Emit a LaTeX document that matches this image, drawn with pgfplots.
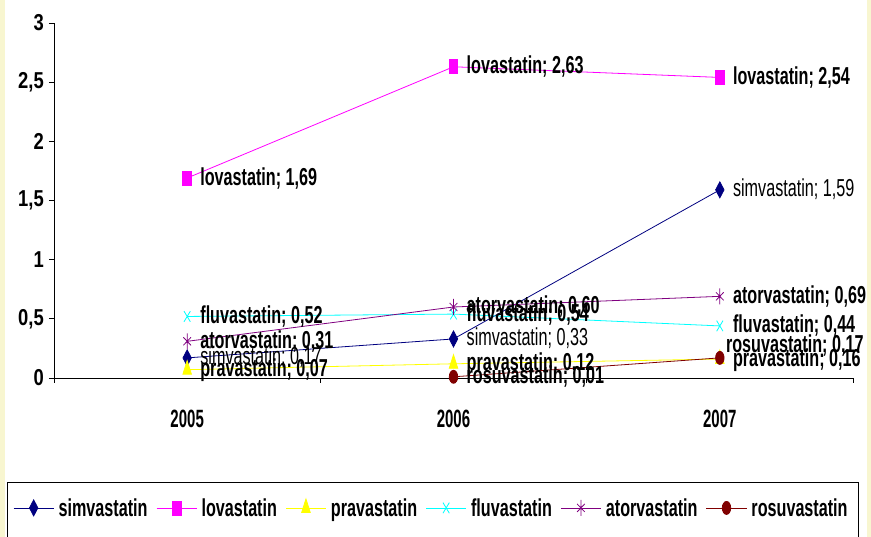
\documentclass[border=0pt]{standalone}
\usepackage{pgfplots}
\pgfplotsset{compat=1.18}
\usepackage{fontspec}
\setmainfont{Liberation Sans}
\newfontfamily\lblfont{Liberation Sans}[FakeStretch=0.66]
\newfontfamily\xfont{Liberation Sans}[FakeStretch=0.6]
\newfontfamily\yfont{Liberation Sans}[FakeStretch=0.8]
\newcommand\lbl{\lblfont\bfseries\fontsize{24.5}{26}\selectfont}
\newcommand\lblr{\lblfont\fontsize{24.5}{26}\selectfont}
\definecolor{cSim}{HTML}{000080}
\definecolor{cLov}{HTML}{FF00FF}
\definecolor{cPra}{HTML}{FFFF00}
\definecolor{cFlu}{HTML}{00FFFF}
\definecolor{cAto}{HTML}{800080}
\definecolor{cRos}{HTML}{800000}
\definecolor{cream}{HTML}{F8F6D0}
\pgfplotsset{
  lab/.style={every node near coord/.append style={text=black, anchor=base west, xshift=13pt, yshift=-7pt, inner sep=0pt}}
}
\newcommand\val{\pgfmathprintnumber[fixed, fixed zerofill, precision=2, use comma, assume math mode=true]{\pgfplotspointmeta}}
\begin{document}
\begin{tikzpicture}
\fill[cream] (0pt,0pt) rectangle (871pt,537pt);
\fill[white] (5pt,0pt) rectangle (867pt,537pt);
\begin{scope}
\clip (0pt,0pt) rectangle (871pt,537pt);
\draw[black, line width=0.8pt] (7pt,-10pt) rectangle (858pt,55pt);
\begin{axis}[
  at={(54pt,159pt)}, anchor=south west, scale only axis,
  width=799pt, height=355pt,
  xmin=-0.5, xmax=2.5, ymin=0, ymax=3,
  axis x line*=bottom, axis y line*=left,
  axis line style={black, line width=0.8pt},
  tick align=outside, major tick length=0pt, minor tick length=5pt,
  tick style={black, line width=0.8pt},
  xtick={0,1,2}, xticklabels={2005,2006,2007},
  minor xtick={-0.5,0.5,1.5,2.5},
  ytick={0,0.5,1,1.5,2,2.5,3},
  minor ytick={0,0.5,1,1.5,2,2.5,3},
  yticklabels={0,{0,5},1,{1,5},2,{2,5},3},
  xticklabel style={font=\xfont\bfseries\fontsize{25}{25}\selectfont, inner sep=0pt, anchor=north, yshift=-32pt},
  yticklabel style={font=\yfont\bfseries\fontsize{23}{23}\selectfont, inner sep=0pt, anchor=east, xshift=-10pt},
  clip=false,
  legend image code/.code={\draw[mark repeat=2,mark phase=2,#1] plot coordinates {(0cm,0cm) (0.705cm,0cm) (1.41cm,0cm)};},
  legend columns=6,
  legend cell align=left,
  legend style={at={(-0.0513,-0.366)}, anchor=west, draw=none, fill=none, inner sep=0pt,
    nodes={inner sep=0pt, anchor=west, font=\lbl},
    /tikz/every odd column/.style={column sep=4.5pt},
    /tikz/every even column/.style={column sep=8.5pt}},
]
\addplot[cSim, line width=0.8pt, mark=diamond*, mark size=8pt, mark options={solid, fill=cSim, draw=cSim, xscale=0.7}]
  coordinates {(0,0.17) (1,0.33) (2,1.59)};
\addlegendentry{simvastatin}
\addplot[cLov, line width=0.8pt, mark=square*, mark size=7pt, mark options={solid, fill=cLov, draw=cLov, xscale=0.62}]
  coordinates {(0,1.69) (1,2.63) (2,2.54)};
\addlegendentry{lovastatin}
\addplot[cPra, line width=0.8pt, mark=triangle*, mark size=9pt, mark options={solid, fill=cPra, draw=cPra, xscale=0.55}]
  coordinates {(0,0.07) (1,0.12) (2,0.16)};
\addlegendentry{pravastatin}
\addplot[cFlu, line width=0.8pt, mark=x, mark size=7.5pt, mark options={solid, draw=cFlu, xscale=0.6}]
  coordinates {(0,0.52) (1,0.54) (2,0.44)};
\addlegendentry{fluvastatin}
\addplot[cAto, line width=0.8pt, mark=asterisk, mark size=8pt, mark options={solid, draw=cAto, xscale=0.55}]
  coordinates {(0,0.31) (1,0.60) (2,0.69)};
\addlegendentry{atorvastatin}
\addplot[cRos, line width=0.8pt, mark=*, mark size=6.5pt, mark options={solid, fill=cRos, draw=cRos, xscale=0.65}]
  coordinates {(1,0.01) (2,0.17)};
\addlegendentry{rosuvastatin}
% data labels
\addplot[forget plot, draw=none, mark=none, lab, nodes near coords={\lblr simvastatin; \val}]
  coordinates {(0,0.17) (1,0.33) (2,1.59)};
\addplot[forget plot, draw=none, mark=none, lab, nodes near coords={\lbl lovastatin; \val}]
  coordinates {(0,1.69) (1,2.63) (2,2.54)};
\addplot[forget plot, draw=none, mark=none, lab, nodes near coords={\lbl pravastatin; \val}]
  coordinates {(0,0.07) (1,0.12) (2,0.16)};
\addplot[forget plot, draw=none, mark=none, lab, nodes near coords={\lbl fluvastatin; \val}]
  coordinates {(0,0.52) (1,0.54) (2,0.44)};
\addplot[forget plot, draw=none, mark=none, lab, nodes near coords={\lbl atorvastatin; \val}]
  coordinates {(0,0.31) (1,0.60) (2,0.69)};
\addplot[forget plot, draw=none, mark=none, lab, nodes near coords={\lbl rosuvastatin; \val}]
  coordinates {(1,0.01)};
\addplot[forget plot, draw=none, mark=none, nodes near coords={\lbl rosuvastatin; \val},
  every node near coord/.append style={text=black, anchor=base west, xshift=6pt, yshift=5pt, inner sep=0pt}]
  coordinates {(2,0.17)};
\end{axis}
\end{scope}
\pgfresetboundingbox
\useasboundingbox (0pt,0pt) rectangle (871pt,537pt);
\end{tikzpicture}
\end{document}
